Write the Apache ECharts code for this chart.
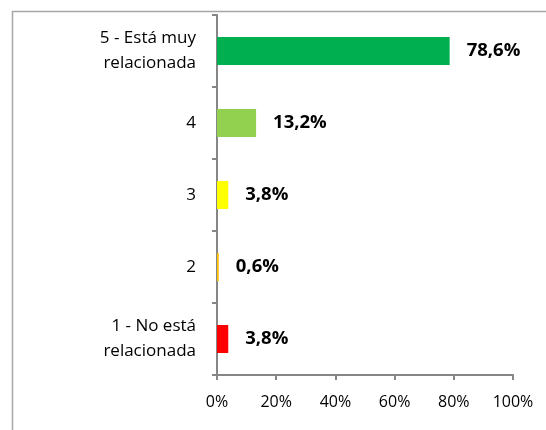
<!DOCTYPE html>
<html>
<head>
<meta charset="utf-8">
<script src="https://cdn.jsdelivr.net/npm/echarts@6/dist/echarts.min.js"></script>
<style>
html,body{margin:0;padding:0;background:#fff;}
#main{width:546px;height:430px;}
</style>
</head>
<body>
<div id="main"></div>
<script>
const categories = ["1 - No está\nrelacionada", "2", "3", "4", "5 - Está muy\nrelacionada"];
const values = [3.8, 0.6, 3.8, 13.2, 78.6];
const barColors = ["#FF0000", "#FFC000", "#FFFF00", "#92D050", "#00B050"];
const xTicks = [0, 20, 40, 60, 80, 100];

const FONT = "'Open Sans', Lato, sans-serif";
const chart = echarts.init(document.getElementById('main'));
chart.setOption({
  animation: false,
  graphic: [{
    type: 'rect', left: 10, top: 9,
    shape: {width: 600, height: 500},
    style: {fill: 'none', stroke: '#A6A6A6', lineWidth: 1.5},
    silent: true
  }],
  grid: {left: 217, right: 33, top: 15, bottom: 55, containLabel: false},
  xAxis: {
    type: 'value', min: xTicks[0], max: xTicks[xTicks.length - 1], interval: 20,
    axisLine: {show: true, lineStyle: {color: '#868686', width: 2}},
    axisTick: {show: true, length: 5, lineStyle: {color: '#868686', width: 2}},
    splitLine: {show: false},
    axisLabel: {formatter: '{value}%', color: '#000', fontFamily: FONT, fontSize: 16, margin: 19}
  },
  yAxis: {
    type: 'category', data: categories,
    axisLine: {show: true, lineStyle: {color: '#868686', width: 2}},
    axisTick: {show: true, length: 5, lineStyle: {color: '#868686', width: 2}},
    axisLabel: {color: '#000', fontFamily: FONT, fontSize: 17, margin: 21, align: 'right', lineHeight: 25}
  },
  series: [{
    type: 'bar',
    data: values.map((v, i) => ({value: v, itemStyle: {color: barColors[i]}})),
    barWidth: 28,
    label: {
      show: true, position: 'right', distance: 17,
      formatter: p => p.value.toFixed(1).replace('.', ',') + '%',
      color: '#000', fontWeight: 'bold', fontFamily: FONT, fontSize: 18.5
    }
  }]
});
</script>
</body>
</html>
